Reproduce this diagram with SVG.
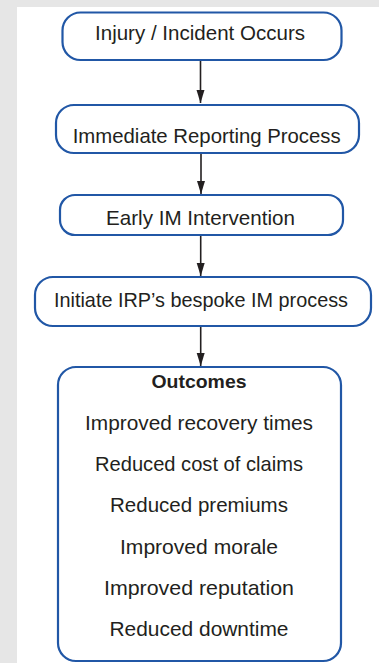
<svg xmlns="http://www.w3.org/2000/svg" width="379" height="663" viewBox="0 0 379 663">
<style>
.bg{fill:#e6e6e6}
.panel{fill:#ffffff}
.box{fill:#ffffff;stroke:#2157a6;stroke-width:2.2}
.t{font-family:"Liberation Sans",Arial,sans-serif;font-size:21px;fill:#231f20;text-anchor:middle}
.b{font-family:"Liberation Sans",Arial,sans-serif;font-size:19px;font-weight:bold;fill:#231f20;text-anchor:middle}
.conn{stroke:#231f20;stroke-width:1.6;fill:none}
</style>
<defs>
<marker id="ah" markerUnits="userSpaceOnUse" markerWidth="13" markerHeight="9" refX="13" refY="4.5" orient="auto" viewBox="0 0 13 9">
<path d="M0,0.5 L13,4.5 L0,8.5 Z" fill="#231f20"/>
</marker>
</defs>
<rect class="bg" x="0" y="0" width="379" height="663"/>
<rect class="panel" x="17" y="7" width="362" height="656"/>
<g id="connectors">
<line class="conn" x1="200.5" y1="61" x2="200.5" y2="103" marker-end="url(#ah)"/>
<line class="conn" x1="201" y1="154" x2="201" y2="194" marker-end="url(#ah)"/>
<line class="conn" x1="200.7" y1="236" x2="200.7" y2="276" marker-end="url(#ah)"/>
<line class="conn" x1="200.7" y1="327" x2="200.7" y2="366" marker-end="url(#ah)"/>
</g>
<g id="node1">
<rect class="box" x="62.5" y="12.5" width="279" height="47.5" rx="18" ry="18"/>
<text class="t" x="200" y="40" textLength="210" lengthAdjust="spacingAndGlyphs">Injury / Incident Occurs</text>
</g>
<g id="node2">
<rect class="box" x="56" y="105" width="303" height="48" rx="18" ry="18"/>
<text class="t" x="206.7" y="143" textLength="268" lengthAdjust="spacingAndGlyphs">Immediate Reporting Process</text>
</g>
<g id="node3">
<rect class="box" x="60" y="195" width="283" height="40" rx="15" ry="15"/>
<text class="t" x="200.5" y="225" textLength="189" lengthAdjust="spacingAndGlyphs">Early IM Intervention</text>
</g>
<g id="node4">
<rect class="box" x="35" y="277" width="336" height="49" rx="18" ry="18"/>
<text class="t" x="201" y="306.7" textLength="294" lengthAdjust="spacingAndGlyphs">Initiate IRP’s bespoke IM process</text>
</g>
<g id="node5">
<rect class="box" x="58" y="367" width="283" height="294" rx="18" ry="18"/>
<text class="b" x="199" y="388" textLength="95" lengthAdjust="spacingAndGlyphs">Outcomes</text>
<text class="t" x="199" y="430" textLength="228" lengthAdjust="spacingAndGlyphs">Improved recovery times</text>
<text class="t" x="199" y="471" textLength="208" lengthAdjust="spacingAndGlyphs">Reduced cost of claims</text>
<text class="t" x="199" y="512" textLength="178" lengthAdjust="spacingAndGlyphs">Reduced premiums</text>
<text class="t" x="199" y="553.5" textLength="158" lengthAdjust="spacingAndGlyphs">Improved morale</text>
<text class="t" x="199" y="595" textLength="190" lengthAdjust="spacingAndGlyphs">Improved reputation</text>
<text class="t" x="199" y="635.5" textLength="179" lengthAdjust="spacingAndGlyphs">Reduced downtime</text>
</g>
</svg>
